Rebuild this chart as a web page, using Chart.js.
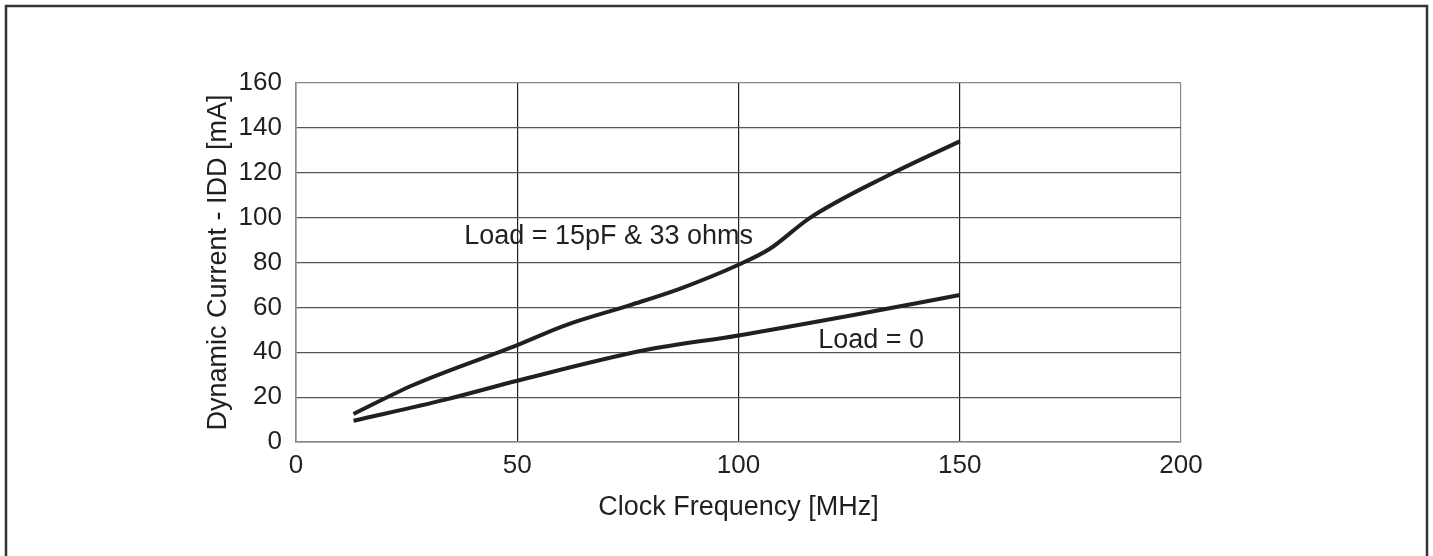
<!DOCTYPE html>
<html>
<head>
<meta charset="utf-8">
<title>Dynamic Current vs Clock Frequency</title>
<script src="https://cdn.jsdelivr.net/npm/chart.js@4/dist/chart.umd.min.js"></script>
<style>
  html, body { margin: 0; padding: 0; background: #fff; }
  #wrap { width: 1433px; height: 556px; position: relative; }
</style>
</head>
<body>
<div id="wrap"><canvas id="idd-chart"></canvas></div>
<script>
// values
const freqLoaded = [13, 26.5, 50, 61, 75.5, 87, 100, 107, 116, 134, 150];
const iddLoaded = [12.5, 25.4, 43.2, 52.1, 61, 68.5, 79, 86, 99.7, 119, 134];

const freqNoLoad = [13, 34, 50, 79, 100, 126, 150];
const iddNoLoad = [9.5, 19, 27.3, 41, 47.5, 56.6, 65.5];

const xTicks = [0, 50, 100, 150, 200];
const yTicks = [0, 20, 40, 60, 80, 100, 120, 140, 160];

const curveLabels = ['Load = 15pF & 33 ohms', 'Load = 0'];
const labelX = [38, 118];
const labelY = [91.5, 45];

const FONT = '"Liberation Sans", Arial, Helvetica, sans-serif';
const INK = '#231f20';

const toPoints = (xs, ys) => xs.map((x, i) => ({ x: x, y: ys[i] }));

// outer frame + curve annotations
const extras = {
    id: 'extras',
    beforeDraw(chart) {
        const c = chart.ctx;
        c.save();
        c.strokeStyle = '#333';
        c.lineWidth = 2.5;
        c.strokeRect(6, 6, 1421, 560);
        c.restore();
    },
    afterDatasetsDraw(chart) {
        const c = chart.ctx;
        const xs = chart.scales.x;
        const ys = chart.scales.y;
        c.save();
        c.fillStyle = INK;
        c.font = '27px ' + FONT;
        c.textAlign = 'left';
        c.textBaseline = 'middle';
        for (let i = 0; i < curveLabels.length; i++) {
            c.fillText(curveLabels[i], xs.getPixelForValue(labelX[i]), ys.getPixelForValue(labelY[i]));
        }
        c.restore();
    }
};

const ctx = document.getElementById('idd-chart').getContext('2d');
const iddChart = new Chart(ctx, {
    type: 'line',
    data: {
        datasets: [
            {
                label: curveLabels[0],
                data: toPoints(freqLoaded, iddLoaded),
                borderColor: INK,
                borderWidth: 4,
                pointRadius: 0,
                cubicInterpolationMode: 'monotone',
                fill: false
            },
            {
                label: curveLabels[1],
                data: toPoints(freqNoLoad, iddNoLoad),
                borderColor: INK,
                borderWidth: 4,
                pointRadius: 0,
                cubicInterpolationMode: 'monotone',
                fill: false
            }
        ]
    },
    options: {
        responsive: true,
        maintainAspectRatio: false,
        animation: false,
        layout: { padding: { left: 0, top: 83, right: 252, bottom: 0 } },
        plugins: {
            legend: { display: false },
            tooltip: { enabled: false }
        },
        scales: {
            x: {
                type: 'linear',
                min: 0,
                max: 200,
                afterFit: (s) => { s.height = 114; },
                afterBuildTicks: (s) => { s.ticks = xTicks.map(v => ({ value: v })); },
                ticks: {
                    color: INK,
                    font: { family: FONT, size: 26 },
                    padding: 8,
                    maxRotation: 0
                },
                grid: {
                    drawTicks: false,
                    color: (c) => c.tick && c.tick.value === 200 ? '#888' : '#222',
                    lineWidth: 1.2
                },
                border: { color: '#888', width: 1.5 },
                title: {
                    display: true,
                    text: 'Clock Frequency [MHz]',
                    color: INK,
                    font: { family: FONT, size: 27 },
                    padding: { top: 0, bottom: 32 }
                }
            },
            y: {
                min: 0,
                max: 160,
                afterFit: (s) => { s.width = 296; },
                afterBuildTicks: (s) => { s.ticks = yTicks.map(v => ({ value: v })); },
                ticks: {
                    color: INK,
                    font: { family: FONT, size: 26 },
                    padding: 14
                },
                grid: {
                    drawTicks: false,
                    color: (c) => c.tick && c.tick.value === 160 ? '#888' : '#555',
                    lineWidth: 1.2
                },
                border: { color: '#888', width: 1.5 },
                title: {
                    display: true,
                    text: 'Dynamic Current - IDD [mA]',
                    color: INK,
                    font: { family: FONT, size: 27 },
                    padding: { top: 202, bottom: 0 }
                }
            }
        }
    },
    plugins: [extras]
});
</script>
</body>
</html>
